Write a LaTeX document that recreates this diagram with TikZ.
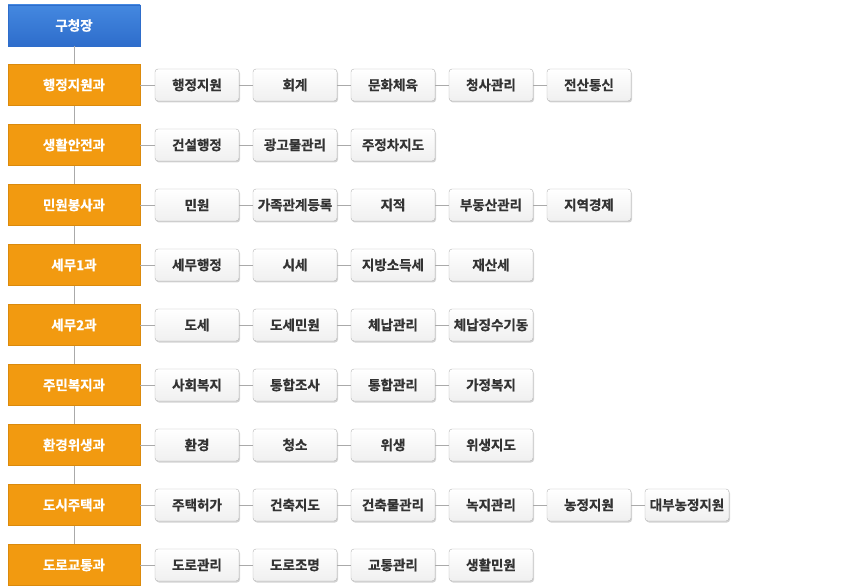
\documentclass[tikz,border=0pt]{standalone}
\usepackage{fontspec}
\newfontfamily\kor[BoldFont={Noto Sans CJK KR Bold}, BoldFeatures={FakeBold=0.8}]{Noto Sans CJK KR}
\usetikzlibrary{shadows}

\definecolor{chieftop}{HTML}{4488E0}
\definecolor{chiefbot}{HTML}{2E6DCB}
\definecolor{deptfill}{HTML}{F29A10}
\definecolor{deptline}{HTML}{DB8A0C}
\definecolor{linkgray}{HTML}{AAAAAA}
\definecolor{subtext}{HTML}{333333}

\tikzset{
  chief/.style={draw=chiefbot, top color=chieftop, bottom color=chiefbot,
    minimum width=132pt, minimum height=41pt, text=white},
  dept/.style={draw=deptline, fill=deptfill,
    minimum width=132pt, minimum height=41pt, text=white},
  team/.style={draw=gray!60, rounded corners=3pt, top color=white, bottom color=gray!12,
    minimum width=84pt, minimum height=32pt, text=subtext, inner sep=1pt,
    drop shadow={shadow xshift=1pt, shadow yshift=-1.5pt, opacity=0.35}},
  link/.style={linkgray, line width=0.8pt}
}

\begin{document}
\begin{tikzpicture}[x=1pt, y=-1pt, font=\kor\bfseries\fontsize{13.5}{15}\selectfont]
    \useasboundingbox (0,0) rectangle (841,588);

    % 구청장
    \node[chief] (chief) at (74,25.5) {구청장};

    % 과와 팀
    \foreach \i/\dept/\subs in {
        1/행정지원과/{행정지원,회계,문화체육,청사관리,전산통신},
        2/생활안전과/{건설행정,광고물관리,주정차지도},
        3/민원봉사과/{민원,가족관계등록,지적,부동산관리,지역경제},
        4/세무1과/{세무행정,시세,지방소득세,재산세},
        5/세무2과/{도세,도세민원,체납관리,체납징수기동},
        6/주민복지과/{사회복지,통합조사,통합관리,가정복지},
        7/환경위생과/{환경,청소,위생,위생지도},
        8/도시주택과/{주택허가,건축지도,건축물관리,녹지관리,농정지원,대부농정지원},
        9/도로교통과/{도로관리,도로조명,교통관리,생활민원}} {
        \node[dept, alias=s\i-0] (dept\i) at (74,85+60*\i-60) {\dept};
        \foreach \s [count=\j, remember=\j as \k (initially 0)] in \subs {
            \node[team] (s\i-\j) at (197+98*\j-98,85+60*\i-60) {\s};
            \draw[link] (s\i-\k.east) -- (s\i-\j.west);
        }
    }

    % 세로 연결선
    \draw[link] (chief.south) -- (dept1.north);
    \foreach \i [evaluate=\i as \n using int(\i+1)] in {1,...,8}
        \draw[link] (dept\i.south) -- (dept\n.north);
\end{tikzpicture}
\end{document}
